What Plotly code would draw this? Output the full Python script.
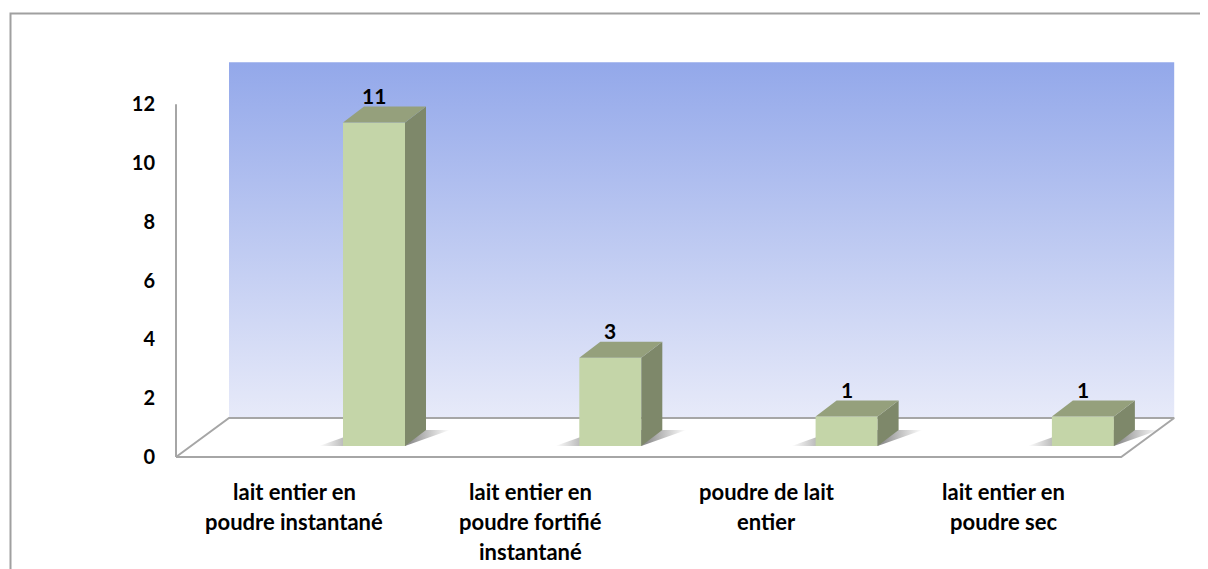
import plotly.graph_objects as go

# ---------------- data ----------------
categories = [
    "lait entier en poudre instantané",
    "lait entier en poudre fortifié instantané",
    "poudre de lait entier",
    "lait entier en poudre sec",
]
category_labels = [
    "lait entier en<br>poudre instantané",
    "lait entier en<br>poudre fortifié<br>instantané",
    "poudre de lait<br>entier",
    "lait entier en<br>poudre sec",
]
values = [11, 3, 1, 1]
y_tickvals = [0, 2, 4, 6, 8, 10, 12]
y_ticktext = ["0", "2", "4", "6", "8", "10", "12"]
Y_MAX = 12

# ---------------- geometry (pixels -> axis units) ----------------
# the page body has an 8px margin, so the figure is made 8px smaller
# and every pixel position is measured from that offset
OFF = 8
W, H = 1208 - OFF, 569 - OFF
PX_CAT = 236.3        # pixels per category
PX_VAL = 29.4         # pixels per value unit
BAR0_PX = 374 - OFF   # pixel x of first bar centre
VAL0_PX = 457 - OFF   # pixel y of value 0 at the floor front edge
BARBASE_PX = 446 - OFF  # pixel y of bar front-face bottom
FLOOR_LEFT_PX = 176 - OFF

x_range = [-BAR0_PX / PX_CAT, (W - BAR0_PX) / PX_CAT]
y_range = [-(H - VAL0_PX) / PX_VAL, VAL0_PX / PX_VAL]
y2_range = [-(H - BARBASE_PX) / PX_VAL, BARBASE_PX / PX_VAL]

n = len(categories)
FX0 = (FLOOR_LEFT_PX - BAR0_PX) / PX_CAT
FX1 = FX0 + n
DX = 53 / PX_CAT          # floor depth (x)
DY = 39 / PX_VAL          # floor depth (y)
WALL_TOP = Y_MAX + DY + 3 / PX_VAL

BW = 62 / PX_CAT          # bar width
BDX = 21 / PX_CAT         # bar depth (x)
BDY = 16 / PX_VAL         # bar depth (y)
BAR_BASE_Y = (VAL0_PX - BARBASE_PX) / PX_VAL
SH = 24 / PX_CAT          # shadow spread

FRONT = "#C4D5A8"
SIDE = "#7E886A"
TOP = "#95A07C"
GRID_GRAY = "#A6A6A6"
FONT = "Lato"

fig = go.Figure()

# back wall with vertical gradient
fig.add_trace(go.Scatter(
    x=[FX0 + DX, FX1 + DX, FX1 + DX, FX0 + DX, FX0 + DX],
    y=[DY, DY, WALL_TOP, WALL_TOP, DY],
    mode="lines", line=dict(width=0), fill="toself",
    fillcolor="#B8C6F0",
    fillgradient=dict(type="vertical",
                      colorscale=[[0, "#E7EAF9"], [1, "#93A8EA"]]),
    hoverinfo="skip", showlegend=False, xaxis="x", yaxis="y"))

# floor
fig.add_trace(go.Scatter(
    x=[FX0, FX1, FX1 + DX, FX0 + DX, FX0],
    y=[0, 0, DY, DY, 0],
    mode="lines", line=dict(color=GRID_GRAY, width=2), fill="toself",
    fillcolor="#FFFFFF", hoverinfo="skip", showlegend=False,
    xaxis="x", yaxis="y"))

# vertical axis line
fig.add_trace(go.Scatter(
    x=[FX0, FX0], y=[0, Y_MAX], mode="lines",
    line=dict(color=GRID_GRAY, width=2), hoverinfo="skip",
    showlegend=False, xaxis="x", yaxis="y"))

# bar shadows on the floor
for i, v in enumerate(values):
    xl, xr = i - BW / 2, i + BW / 2
    fig.add_trace(go.Scatter(
        x=[xl - SH, xr, xr + BDX + SH, xl + BDX, xl - SH],
        y=[BAR_BASE_Y, BAR_BASE_Y, BAR_BASE_Y + BDY, BAR_BASE_Y + BDY, BAR_BASE_Y],
        mode="lines", line=dict(width=0), fill="toself",
        fillcolor="rgba(80,80,80,0.3)",
        fillgradient=dict(type="horizontal", colorscale=[
            [0, "rgba(80,80,80,0)"], [0.3, "rgba(70,70,70,0.6)"],
            [0.7, "rgba(70,70,70,0.6)"], [1, "rgba(80,80,80,0)"]]),
        hoverinfo="skip", showlegend=False, xaxis="x", yaxis="y"))

# bar front faces
fig.add_trace(go.Bar(
    x=list(range(n)), y=values, width=BW,
    marker=dict(color=FRONT, line=dict(width=0)),
    hovertext=categories, hoverinfo="text+y",
    showlegend=False, xaxis="x", yaxis="y2"))

# bar side and top faces
for i, v in enumerate(values):
    xl, xr = i - BW / 2, i + BW / 2
    fig.add_trace(go.Scatter(
        x=[xr, xr + BDX, xr + BDX, xr, xr],
        y=[0, BDY, v + BDY, v, 0],
        mode="lines", line=dict(width=0), fill="toself", fillcolor=SIDE,
        hoverinfo="skip", showlegend=False, xaxis="x", yaxis="y2"))
    fig.add_trace(go.Scatter(
        x=[xl, xr, xr + BDX, xl + BDX, xl],
        y=[v, v, v + BDY, v + BDY, v],
        mode="lines", line=dict(width=0), fill="toself", fillcolor=TOP,
        hoverinfo="skip", showlegend=False, xaxis="x", yaxis="y2"))

annotations = []
# data labels
for i, v in enumerate(values):
    annotations.append(dict(
        x=i, y=v, xref="x", yref="y2", text=str(v), showarrow=False,
        yanchor="bottom", xanchor="center", yshift=13,
        font=dict(family=FONT, size=21, color="#000000", weight="bold")))

# category labels (one annotation per line to reproduce the line spacing)
LINE0_CENTER_PX = 491.5 - OFF
LINE_STEP_PX = 30
for i, lab in enumerate(category_labels):
    for k, line in enumerate(lab.split("<br>")):
        annotations.append(dict(
            x=FX0 + 0.5 + i, y=0, xref="x", yref="y", text=line,
            showarrow=False, xanchor="center", yanchor="middle",
            yshift=-(LINE0_CENTER_PX + LINE_STEP_PX * k - VAL0_PX),
            font=dict(family=FONT, size=22, color="#000000", weight="bold")))

fig.update_layout(
    width=W, height=H,
    margin=dict(l=0, r=0, t=0, b=0),
    paper_bgcolor="#FFFFFF", plot_bgcolor="rgba(0,0,0,0)",
    showlegend=False,
    xaxis=dict(range=x_range, visible=False, fixedrange=True),
    yaxis=dict(range=y_range, anchor="free", position=(FLOOR_LEFT_PX + 1) / W,
               side="left", showgrid=False, zeroline=False, showline=False,
               ticks="", tickvals=y_tickvals, ticktext=y_ticktext,
               ticklabelstandoff=22,
               tickfont=dict(family=FONT, size=20, color="#000000", weight="bold"),
               fixedrange=True),
    yaxis2=dict(range=y2_range, overlaying="y", anchor="x", visible=False,
                fixedrange=True),
    annotations=annotations,
    shapes=[dict(type="rect", xref="paper", yref="paper",
                 x0=(10.5 - OFF) / W, x1=1.05, y0=-0.05, y1=1 - (13.5 - OFF) / H,
                 line=dict(color="#A0A0A0", width=2), fillcolor="rgba(0,0,0,0)",
                 layer="above")],
)

fig.write_html("out.html")
